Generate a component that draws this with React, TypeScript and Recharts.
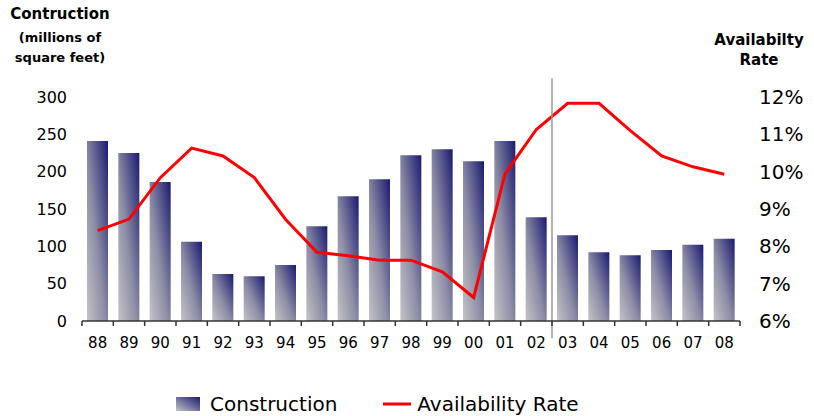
import {
  Bar,
  ComposedChart,
  Legend,
  Line,
  ReferenceLine,
  XAxis,
  YAxis,
} from "recharts";

const years = ["88", "89", "90", "91", "92", "93", "94", "95", "96", "97", "98", "99", "00", "01", "02", "03", "04", "05", "06", "07", "08"];
const construction = [241, 225, 186, 106, 63, 60, 75, 127, 167, 190, 222, 230, 214, 241, 139, 115, 92, 88, 95, 102, 110];
const availability = [8.42, 8.73, 9.84, 10.63, 10.42, 9.84, 8.72, 7.84, 7.75, 7.63, 7.63, 7.32, 6.63, 9.94, 11.13, 11.83, 11.83, 11.1, 10.42, 10.13, 9.93];
const leftTicks = [0, 50, 100, 150, 200, 250, 300];
const rightTicks = [6, 7, 8, 9, 10, 11, 12];
// boundary ticks (integers) and label positions (halves) on the helper axis
const bottomTicks = Array.from({ length: years.length * 2 + 1 }, (_, i) => i / 2);

const data = years.map((year, i) => ({
  year,
  construction: construction[i],
  rate: availability[i],
}));

const FONT = "'DejaVu Sans', sans-serif";

function BottomTick(props: any) {
  const { x, y, payload } = props;
  const v = payload.value as number;
  if (Number.isInteger(v)) {
    return <line x1={x} y1={y} x2={x} y2={y + 5} stroke="#333" strokeWidth={1.5} />;
  }
  return (
    <text x={x} y={y + 27} textAnchor="middle" fill="#000" fontSize={15} fontFamily={FONT}>
      {years[Math.floor(v)]}
    </text>
  );
}

function LegendContent() {
  return (
    <div
      style={{
        display: "flex",
        alignItems: "center",
        justifyContent: "flex-start",
        paddingLeft: 176,
        fontFamily: FONT,
        fontSize: 20,
        color: "#000",
        height: 24,
      }}
    >
      <svg width={24} height={14} style={{ marginRight: 10 }}>
        <defs>
          <linearGradient id="legendGrad" x1="0" y1="1" x2="1" y2="0">
            <stop offset="0%" stopColor="#c4c4c6" />
            <stop offset="100%" stopColor="#1a1a72" />
          </linearGradient>
        </defs>
        <rect width={24} height={14} fill="url(#legendGrad)" />
      </svg>
      <span>Construction</span>
      <svg width={30} height={14} style={{ marginLeft: 46, marginRight: 4 }}>
        <line x1={0} y1={7} x2={28} y2={7} stroke="#ff0000" strokeWidth={3} />
      </svg>
      <span>Availability Rate</span>
    </div>
  );
}

export default function App() {
  return (
    <div style={{ position: "absolute", left: 0, top: 0, width: 814, height: 416, background: "#fff" }}>
      <div
        style={{
          position: "absolute",
          left: 0,
          top: 4,
          width: 120,
          textAlign: "center",
          fontFamily: FONT,
          fontWeight: "bold",
          color: "#000",
          lineHeight: "20px",
        }}
      >
        <div style={{ fontSize: 15 }}>Contruction</div>
        <div style={{ fontSize: 13, marginTop: 4 }}>(millions of</div>
        <div style={{ fontSize: 13 }}>square feet)</div>
      </div>
      <div
        style={{
          position: "absolute",
          left: 704,
          top: 30,
          width: 110,
          textAlign: "center",
          fontFamily: FONT,
          fontWeight: "bold",
          fontSize: 15,
          color: "#000",
          lineHeight: "20px",
        }}
      >
        <div>Availabilty</div>
        <div>Rate</div>
      </div>
      <ComposedChart
        width={814}
        height={416}
        data={data}
        margin={{ top: 97, right: 0, bottom: 0, left: 0 }}
        style={{ position: "absolute", left: 0, top: 0 }}
      >
        <defs>
          <linearGradient id="barGrad" x1="0" y1="1" x2="1" y2="0">
            <stop offset="0%" stopColor="#c4c4c6" />
            <stop offset="45%" stopColor="#8c8ca6" />
            <stop offset="100%" stopColor="#1a1a72" />
          </linearGradient>
        </defs>
        <XAxis dataKey="year" hide height={0} />
        <XAxis
          xAxisId="num"
          type="number"
          dataKey={(_: unknown, i: number) => i}
          domain={[0, years.length]}
          ticks={bottomTicks}
          interval={0}
          height={71}
          tickSize={0}
          tickMargin={0}
          tickLine={false}
          axisLine={{ stroke: "#333", strokeWidth: 1.5 }}
          tick={<BottomTick />}
          allowDataOverflow
        />
        <YAxis
          yAxisId="left"
          domain={[0, 300]}
          ticks={leftTicks}
          width={82}
          axisLine={false}
          tickLine={false}
          tickSize={0}
          tickMargin={15}
          tick={{ fill: "#000", fontSize: 16, fontFamily: FONT }}
        />
        <YAxis
          yAxisId="right"
          orientation="right"
          domain={[6, 12]}
          ticks={rightTicks}
          width={74}
          axisLine={false}
          tickLine={false}
          tickSize={0}
          tickMargin={19}
          tickFormatter={(v: number) => `${v}%`}
          tick={{ fill: "#000", fontSize: 20, fontFamily: FONT }}
        />
        <Bar
          yAxisId="left"
          dataKey="construction"
          fill="url(#barGrad)"
          barSize={21}
          isAnimationActive={false}
          legendType="rect"
        />
        <Line
          yAxisId="right"
          dataKey="rate"
          stroke="#ff0000"
          strokeWidth={3}
          dot={false}
          activeDot={false}
          isAnimationActive={false}
        />
        <ReferenceLine
          xAxisId="num"
          yAxisId="left"
          segment={[
            { x: 15, y: 325 },
            { x: 15, y: -23 },
          ]}
          stroke="#999"
          strokeWidth={1.5}
          ifOverflow="visible"
        />
        <Legend verticalAlign="bottom" height={24} content={<LegendContent />} />
      </ComposedChart>
    </div>
  );
}
